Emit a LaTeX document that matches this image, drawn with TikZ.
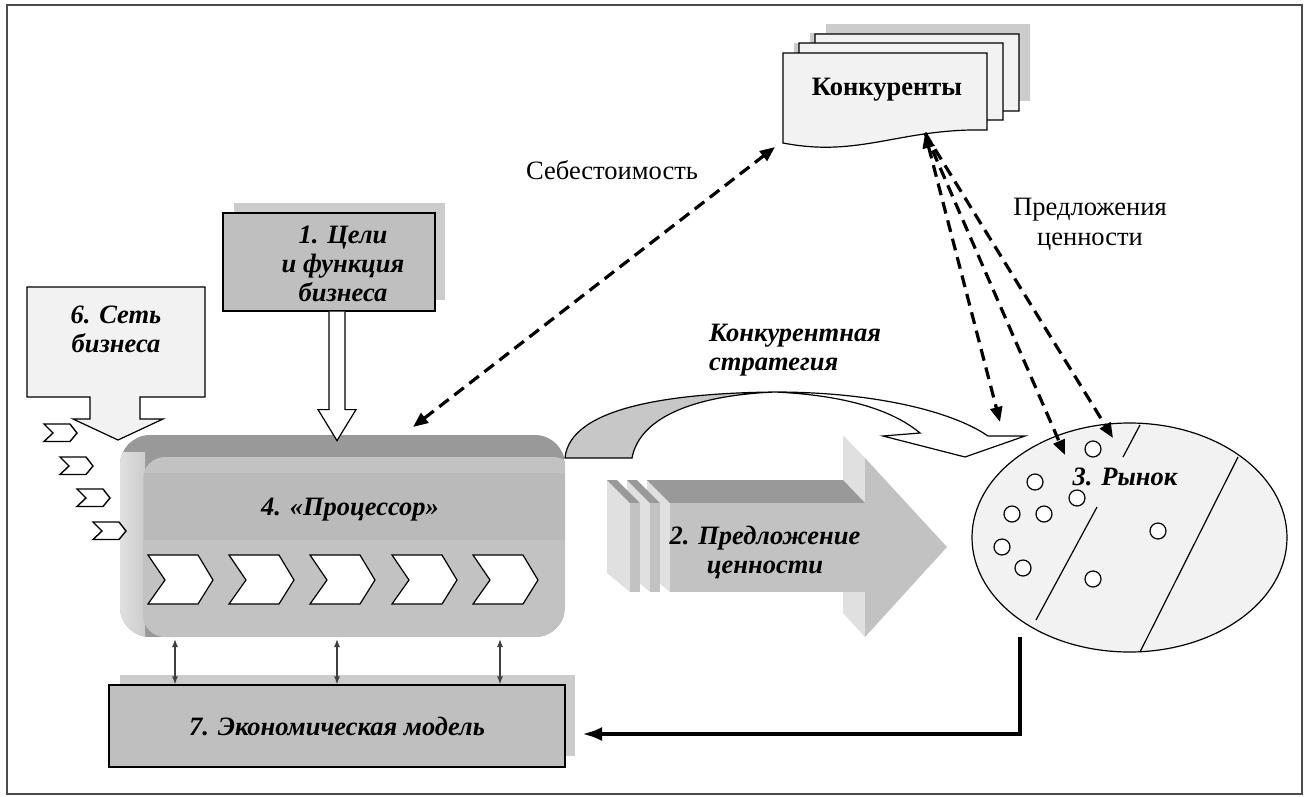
\documentclass[tikz,border=0pt]{standalone}
\usepackage{fontspec}
\setmainfont{Liberation Serif}
\usetikzlibrary{arrows.meta,calc,shapes.geometric}
\definecolor{boxgray}{gray}{0.75}
\definecolor{shgray}{gray}{0.80}
\definecolor{paper}{gray}{0.95}
\definecolor{topgray}{gray}{0.60}
\definecolor{frontgray}{gray}{0.76}
\definecolor{bandgray}{gray}{0.73}
\definecolor{sidegray}{gray}{0.88}
\definecolor{sideR}{gray}{0.80}
\definecolor{curvegray}{gray}{0.78}
\definecolor{framegray}{gray}{0.3}
\begin{document}
\begin{tikzpicture}[x=1pt,y=-1pt,
  lbl/.style={font=\fontsize{26.5}{29}\selectfont\bfseries\itshape, align=center, inner sep=0pt},
  txt/.style={font=\fontsize{26.5}{30}\selectfont, align=center, inner sep=0pt},
  edge/.style={draw=black, line width=1.2pt},
  dashln/.style={line width=3.2pt, dash pattern=on 12pt off 7pt},
  tipA/.tip={Triangle[length=15pt,width=12pt]},
  dblarr/.style={line width=1.3pt, draw=black!75, {Latex[length=8pt,width=6pt]}-{Latex[length=8pt,width=6pt]}},
  docpic/.pic={\path[pic actions] (0,0) -- (204,0) -- (204,77) .. controls (117,75) and (77,105) .. (0,90) -- cycle;},
  chev/.pic={\path[pic actions] (0,0) -- (50,0) -- (65,25) -- (50,49) -- (0,49) -- (17,25) -- cycle;},
  minichev/.pic={\path[pic actions] (0,0) -- (26,0) -- (33,9) -- (26,17.5) -- (0,17.5) -- (9,9) -- cycle;}
]
\useasboundingbox (0,0) rectangle (1307,796);
% frame
\draw[framegray, line width=2.5pt] (7,5) rectangle (1302,794);

% competitors stack
\foreach \dx/\dy in {32/-19, 16/-10, 0/0}
  \pic[fill=shgray] at (794+\dx, 43+\dy) {docpic};
\foreach \dx/\dy in {32/-19, 16/-10, 0/0}
  \pic[fill=paper, draw=black, line width=1.2pt] at (783+\dx, 53+\dy) {docpic};
\node[font=\fontsize{26.5}{30}\selectfont\bfseries, inner sep=0pt] (konk) at (887,90) {Конкуренты};

% box 1
\fill[shgray] (234,203) rectangle (445,300);
\node[edge, fill=boxgray, minimum width=212pt, minimum height=98pt, inner sep=0pt] (b1) at (329,262) {};
\node[lbl] (b1t) at (343,264) {1. Цели\\и функция\\бизнеса};

% processor
\begin{scope}
  \clip[rounded corners=30pt] (120,435) rectangle (565,637);
  \fill[topgray] (120,435) rectangle (565,637);
  \shade[left color=sidegray, right color=sideR] (120,452) rectangle (145,637);
  \fill[frontgray, rounded corners=22pt] (143,457) rectangle (575,637);
  \fill[bandgray] (144,473) rectangle (565,540);
\end{scope}
\node[lbl] (proc) at (350,510) {4. «Процессор»};
\foreach \x in {148,229,310,392,473}
  \pic[fill=white, draw=black, line width=1.2pt] at (\x,555) {chev};

% arrow box1 -> processor
\draw[edge, fill=white] (b1.south) -- ++(0,98) -- ++(-11,0) -- ++(19,31) -- ++(19,-31) -- ++(-11,0) -- ++(0,-98);

% box 6 (callout arrow)
\draw[edge, fill=paper] (27,287) -- (205,287) -- (205,397) -- (140,397) -- (140,419) -- (163,419)
   -- (118,440) -- (73,419) -- (90,419) -- (90,397) -- (27,397) -- cycle;
\node[lbl] (b6t) at (116,329) {6. Сеть\\бизнеса};

% small chevrons
\foreach \x/\y in {44/424, 60/457, 77/489, 93/522}
  \pic[fill=white, draw=black, line width=1.4pt] at (\x,\y) {minichev};

% value proposition 3D arrow
\fill[sidegray] (843,435) -- (865,458) -- (865,637) -- (843,613) -- cycle;
\fill[sidegray] (647,480) -- (670,503) -- (670,592) -- (647,573) -- cycle;
\fill[topgray] (647,480) -- (843,480) -- (865,503) -- (670,503) -- cycle;
\fill[frontgray] (670,503) rectangle (870,592);
\fill[frontgray] (865,458) -- (947,547) -- (865,637) -- cycle;
\foreach \s in {0,-20}{
  \begin{scope}[xshift=\s pt]
    \fill[sidegray] (627,480) -- (650,503) -- (650,592) -- (627,573) -- cycle;
    \fill[topgray] (627,480) -- (637,480) -- (660,503) -- (650,503) -- cycle;
    \fill[frontgray] (650,503) rectangle (660,592);
  \end{scope}}
\node[lbl] (vp) at (765,552) {2. Предложение\\ценности};

% curved strategy arrow
\draw[edge, fill=curvegray] (565,458) .. controls (570,405) and (680,393) .. (775,392)
   .. controls (700,395) and (640,415) .. (632,458) -- cycle;
\draw[edge, fill=white] (775,392) .. controls (870,392) and (950,410) .. (988,436)
   -- (1025,436) -- (965,457) -- (883,436) -- (920,433)
   .. controls (890,408) and (840,395) .. (775,392) -- cycle;
\node[lbl, align=left, anchor=west] (strat) at (709,350) {Конкурентная\\стратегия};

% market
\node[ellipse, draw=black, line width=1.2pt, fill=paper, minimum width=315pt, minimum height=229pt, inner sep=0pt] (mkt) at (1129.5,537.5) {};
\draw[line width=1.2pt] (1140,425) -- (1123,457);
\draw[line width=1.2pt] (1097,507) -- (1036,620);
\draw[line width=1.2pt] (1238,457) -- (1140,652);
\foreach \x/\y [count=\i] in {1093/449, 1035/482, 1077/498, 1012/514, 1044/514, 1002/547, 1023/568, 1093/579, 1158/531}
  \node[circle, draw=black, fill=white, line width=1.2pt, minimum size=16pt, inner sep=0pt] (c\i) at (\x,\y) {};
\node[lbl] (mktt) at (1125,477) {3. Рынок};

% box 7
\fill[shgray] (120,675) rectangle (575,756);
\node[edge, fill=boxgray, minimum width=456pt, minimum height=82pt, lbl] (b7) at (337,726) {7. Экономическая модель};
\foreach \x in {175,337,500}
  \draw[dblarr] (\x,639) -- (\x,0 |- b7.north);

% feedback arrow
\coordinate (fbs) at (1020,637);
\coordinate (fbe) at (582,734);
\draw[line width=4.5pt, -{Latex[length=20pt,width=14pt]}] (fbs) |- (fbe);

% dashed arrows
\coordinate (cs) at (775,147);
\coordinate (ps) at (413,427);
\draw[dashln, tipA-tipA] (ps) -- (cs);
\coordinate (kb) at (925,133);
\coordinate (m1) at (1000,422);
\coordinate (m2) at (1065,455);
\coordinate (m3) at (1113,438);
\draw[dashln, -tipA] (kb) -- (m2);
\draw[dashln, -tipA] (kb) -- (m3);
\draw[dashln, tipA-tipA] (kb) -- (m1);

% labels
\node[txt] (cost) at (612,170) {Себестоимость};
\node[txt] (vpl) at (1090,224) {Предложения\\ценности};
\end{tikzpicture}
\end{document}
